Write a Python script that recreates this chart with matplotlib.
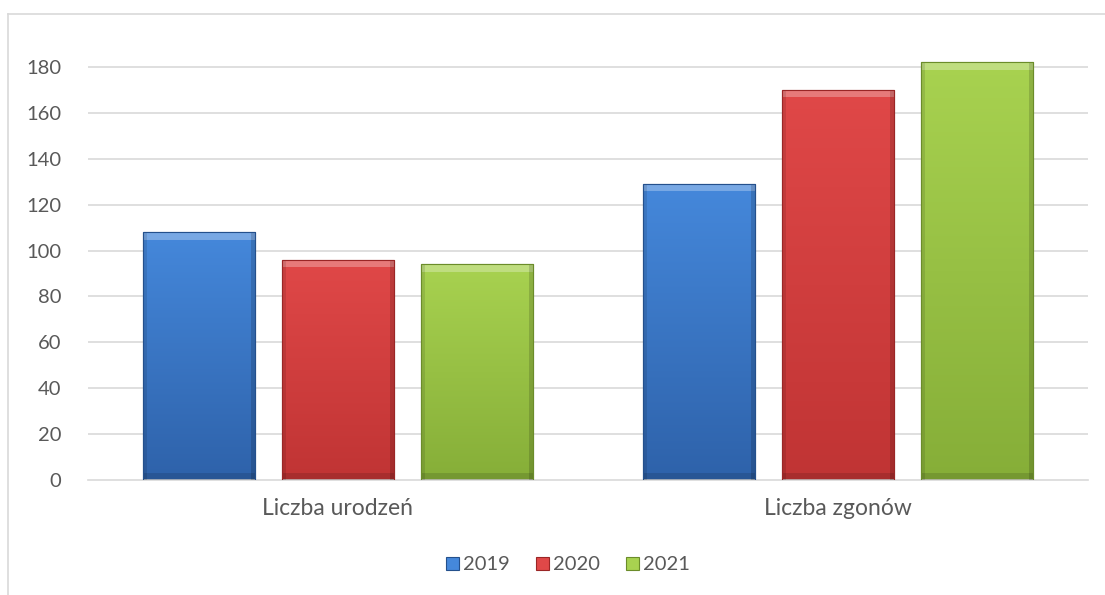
import numpy as np
import matplotlib
matplotlib.use('Agg')
from matplotlib import pyplot as plt
from matplotlib.patches import Rectangle, Patch
from matplotlib.lines import Line2D

plt.rcParams['font.family'] = ['Lato', 'DejaVu Sans']

# dane
kategorie = ['Liczba urodzeń', 'Liczba zgonów']
lata = ['2019', '2020', '2021']
v2019 = [108, 129]
v2020 = [96, 170]
v2021 = [94, 182]
yticks = [0, 20, 40, 60, 80, 100, 120, 140, 160, 180]

# kolory: (jasny góra, ciemny dół, obwódka)
kolory = [('#4588DB', '#2E62AA', '#24508C'),
          ('#E04848', '#C03434', '#9A2626'),
          ('#A8D250', '#86AE38', '#6B8C2A')]

W, H = 1105, 595
fig = plt.figure(figsize=(W / 100, H / 100), dpi=100)

# ramka wykresu
fig.add_artist(Line2D([8 / W, 1.0], [1 - 14 / H, 1 - 14 / H], color='#D9D9D9', lw=1.2))
fig.add_artist(Line2D([8 / W, 8 / W], [0, 1 - 14 / H], color='#D9D9D9', lw=1.2))

y0 = 480
px = (480 - 67) / 180.0
ytop = 200
ax = fig.add_axes([88 / W, (H - y0) / H, 1000 / W, ytop * px / H])
ax.set_xlim(-0.5, 1.5)
ax.set_ylim(0, ytop)

for s in ['top', 'right', 'left']:
    ax.spines[s].set_visible(False)
ax.spines['bottom'].set_color('#D9D9D9')
ax.spines['bottom'].set_linewidth(1.2)

ax.set_yticks(yticks)
ax.set_yticklabels([str(t) for t in yticks])
ax.tick_params(axis='y', length=0, pad=19, labelsize=14.5, labelcolor='#595959')
ax.tick_params(axis='x', length=0, pad=13, labelsize=16.5, labelcolor='#595959')
ax.set_xticks(range(len(kategorie)))
ax.set_xticklabels(kategorie)
for t in yticks[1:]:
    ax.axhline(t, color='#D9D9D9', lw=1.2, zorder=0)

x = np.arange(len(kategorie))
bw = 0.224
step = 0.278
serie = [v2019, v2020, v2021]

grad = np.linspace(0, 1, 256).reshape(-1, 1)
for i, vals in enumerate(serie):
    c_top, c_bot, c_edge = kolory[i]
    cmap = matplotlib.colors.LinearSegmentedColormap.from_list('g%d' % i, [c_bot, c_top])
    xs = x + (i - 1) * step
    bars = ax.bar(xs, vals, bw, color=c_top, edgecolor=c_edge, linewidth=0.8, zorder=2)
    for b in bars:
        bx, by = b.get_x(), b.get_y()
        bh, bwid = b.get_height(), b.get_width()
        im = ax.imshow(grad, cmap=cmap, aspect='auto', origin='lower',
                       extent=[bx, bx + bwid, by, by + bh], zorder=2.5)
        im.set_clip_path(b)
        # fazowanie: jasny pasek u góry, ciemny u dołu i po bokach
        ax.add_patch(Rectangle((bx, by + bh - 3.2), bwid, 3.2, facecolor='white',
                               alpha=0.28, edgecolor='none', zorder=3))
        ax.add_patch(Rectangle((bx, by), bwid, 3.0, facecolor='black',
                               alpha=0.12, edgecolor='none', zorder=3))
        ax.add_patch(Rectangle((bx, by), 0.008, bh, facecolor='black',
                               alpha=0.10, edgecolor='none', zorder=3))
        ax.add_patch(Rectangle((bx + bwid - 0.008, by), 0.008, bh, facecolor='black',
                               alpha=0.15, edgecolor='none', zorder=3))
        ax.add_patch(Rectangle((bx, by), bwid, bh, facecolor='none',
                               edgecolor=c_edge, linewidth=0.8, zorder=4))

handles = [Patch(facecolor=kolory[i][0], edgecolor=kolory[i][2], linewidth=0.8) for i in range(3)]
leg = fig.legend(handles, lata, loc='center', bbox_to_anchor=(568 / W, 1 - 565 / H),
                 ncol=3, frameon=False, fontsize=14.5, handlelength=0.65, handleheight=0.65,
                 handletextpad=0.2, columnspacing=1.3, labelcolor='#595959')

fig.savefig('out.png', dpi=100, facecolor='white')
